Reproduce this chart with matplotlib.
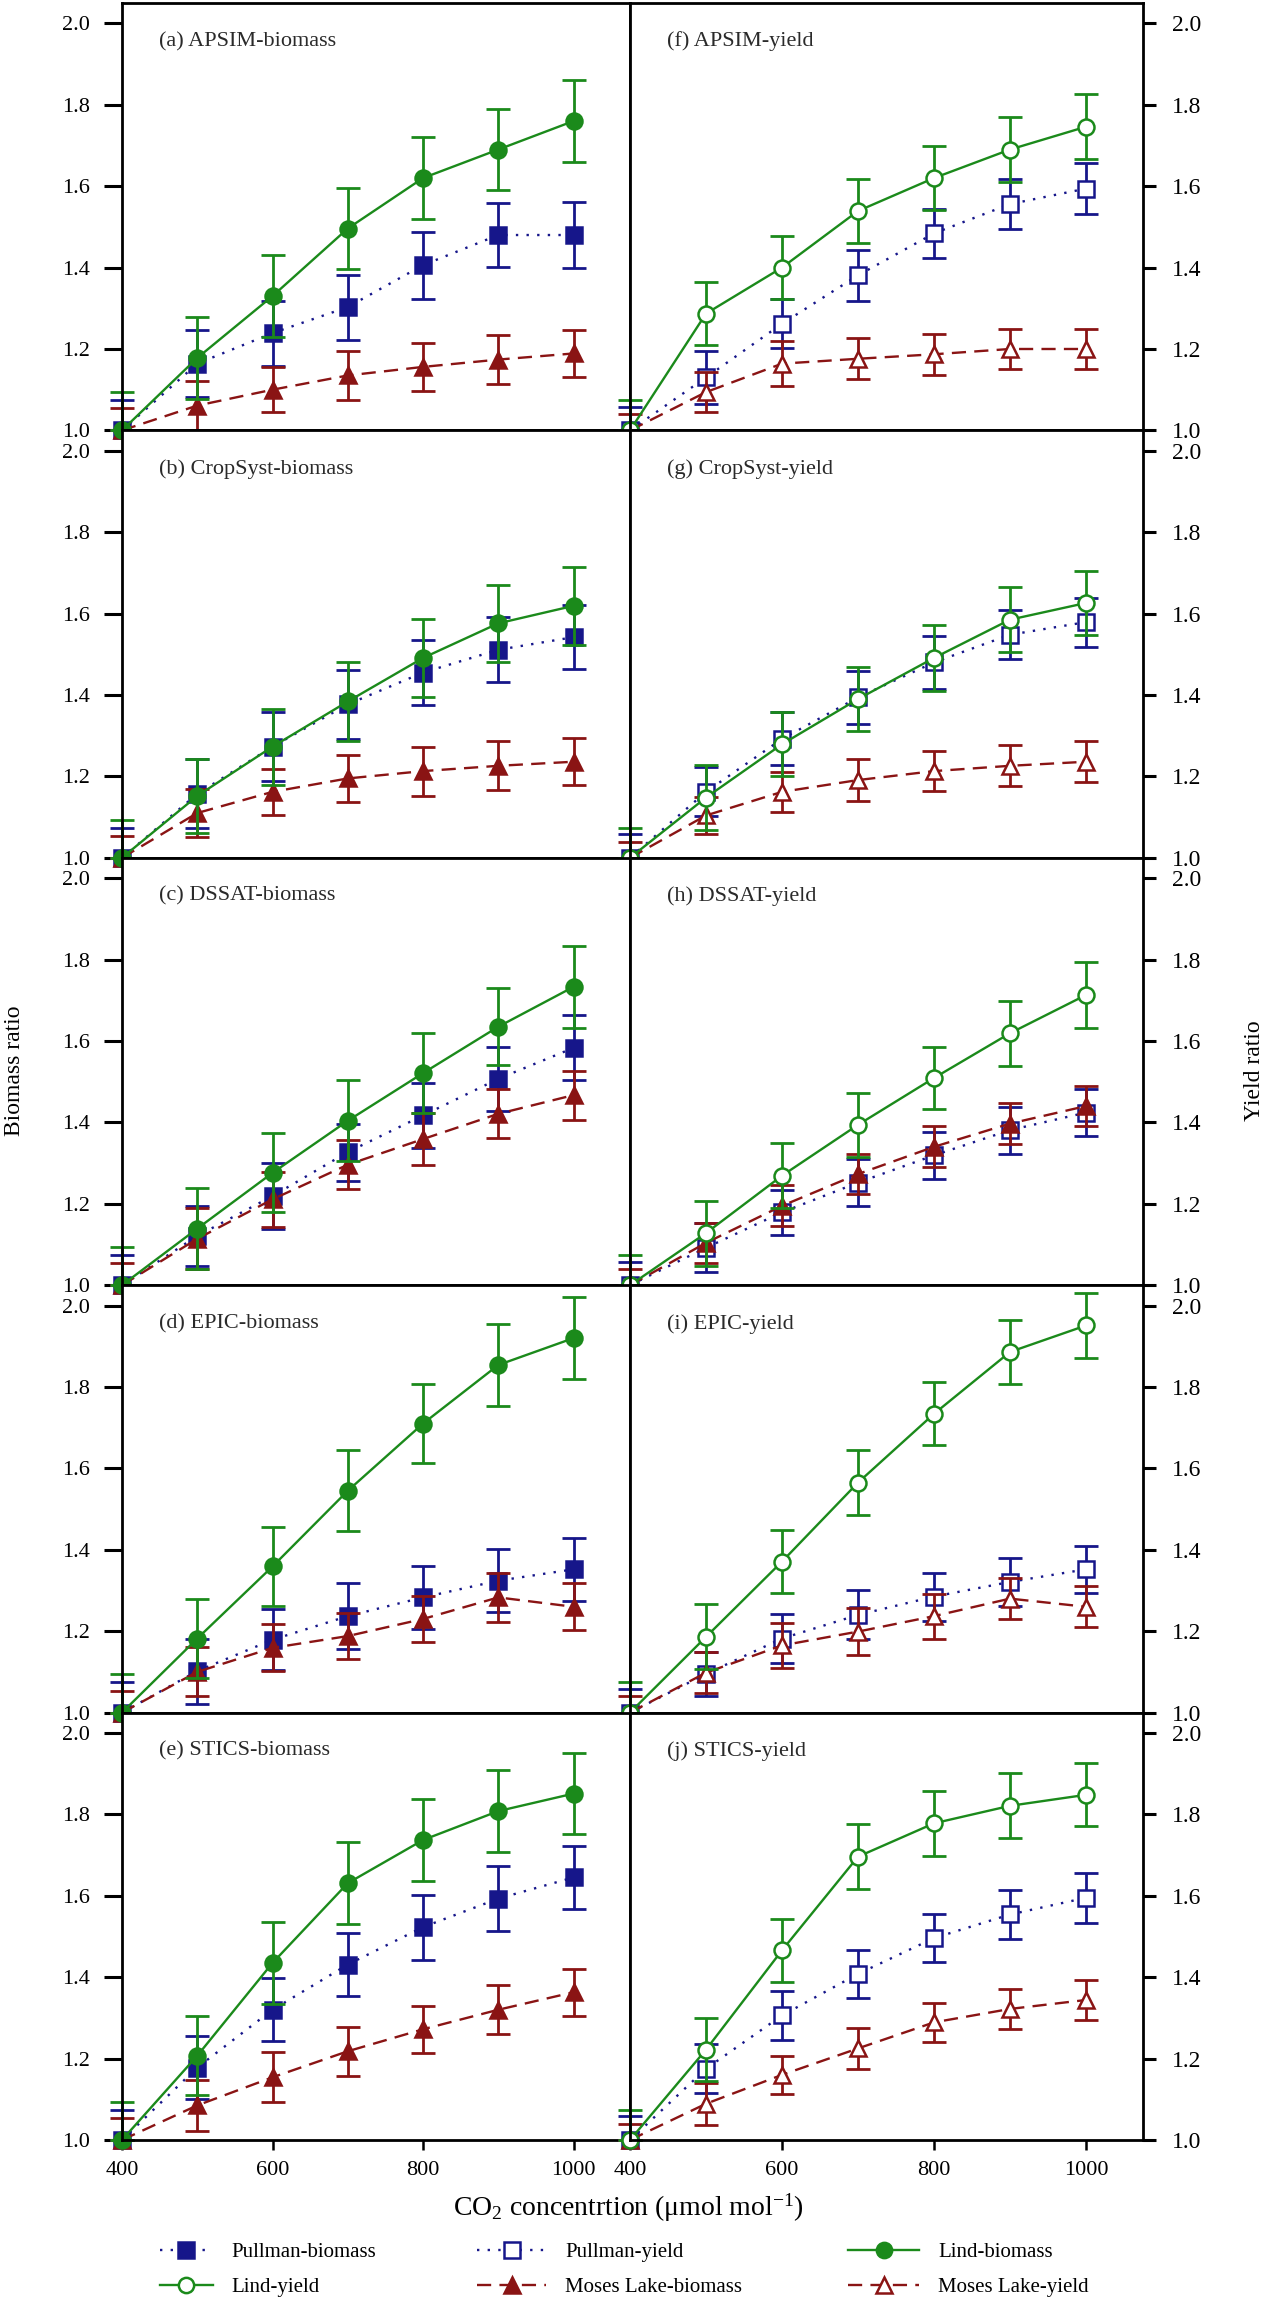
import numpy as np
import matplotlib
matplotlib.use('Agg')
import matplotlib.pyplot as plt
from matplotlib.lines import Line2D

plt.rcParams['font.family'] = ['Liberation Serif', 'DejaVu Serif']
plt.rcParams['mathtext.fontset'] = 'custom'
plt.rcParams['mathtext.rm'] = 'Liberation Serif'
plt.rcParams['mathtext.it'] = 'Liberation Serif:italic'

# CO2 levels (umol mol-1)
co2 = [400, 500, 600, 700, 800, 900, 1000]

# ratios, rows: Pullman, Lind, Moses Lake
apsim_biomass = [[1.0, 1.164, 1.239, 1.303, 1.406, 1.480, 1.480],
                 [1.0, 1.178, 1.330, 1.496, 1.620, 1.690, 1.760],
                 [1.0, 1.061, 1.100, 1.135, 1.156, 1.174, 1.189]]
apsim_biomass_err = [[0.074, 0.082, 0.080, 0.080, 0.082, 0.078, 0.080],
                     [0.094, 0.100, 0.100, 0.100, 0.100, 0.100, 0.100],
                     [0.054, 0.060, 0.055, 0.060, 0.058, 0.060, 0.058]]

cropsyst_biomass = [[1.0, 1.157, 1.273, 1.377, 1.455, 1.511, 1.542],
                    [1.0, 1.152, 1.273, 1.384, 1.491, 1.576, 1.619],
                    [1.0, 1.110, 1.162, 1.195, 1.213, 1.226, 1.236]]
cropsyst_biomass_err = [[0.074, 0.085, 0.085, 0.085, 0.080, 0.080, 0.078],
                        [0.094, 0.090, 0.093, 0.098, 0.095, 0.095, 0.095],
                        [0.054, 0.060, 0.057, 0.058, 0.060, 0.060, 0.058]]

dssat_biomass = [[1.0, 1.121, 1.219, 1.327, 1.417, 1.507, 1.583],
                 [1.0, 1.139, 1.276, 1.404, 1.521, 1.635, 1.733],
                 [1.0, 1.114, 1.211, 1.296, 1.359, 1.421, 1.467]]
dssat_biomass_err = [[0.074, 0.074, 0.080, 0.070, 0.080, 0.078, 0.080],
                     [0.094, 0.100, 0.097, 0.100, 0.098, 0.095, 0.100],
                     [0.054, 0.075, 0.067, 0.060, 0.063, 0.060, 0.060]]

epic_biomass = [[1.0, 1.102, 1.179, 1.237, 1.283, 1.324, 1.352],
                [1.0, 1.182, 1.359, 1.545, 1.710, 1.854, 1.920],
                [1.0, 1.100, 1.159, 1.188, 1.230, 1.283, 1.260]]
epic_biomass_err = [[0.074, 0.080, 0.075, 0.081, 0.078, 0.078, 0.078],
                    [0.094, 0.096, 0.097, 0.100, 0.097, 0.100, 0.100],
                    [0.054, 0.060, 0.058, 0.057, 0.056, 0.060, 0.058]]

stics_biomass = [[1.0, 1.178, 1.320, 1.431, 1.523, 1.593, 1.645],
                 [1.0, 1.207, 1.435, 1.631, 1.737, 1.808, 1.851],
                 [1.0, 1.085, 1.154, 1.218, 1.272, 1.320, 1.363]]
stics_biomass_err = [[0.074, 0.077, 0.078, 0.077, 0.080, 0.080, 0.077],
                     [0.094, 0.097, 0.100, 0.100, 0.100, 0.100, 0.100],
                     [0.054, 0.062, 0.061, 0.060, 0.058, 0.060, 0.058]]

apsim_yield = [[1.0, 1.130, 1.262, 1.381, 1.484, 1.556, 1.594],
               [1.0, 1.287, 1.400, 1.539, 1.620, 1.690, 1.746],
               [1.0, 1.094, 1.164, 1.176, 1.187, 1.200, 1.200]]
apsim_yield_err = [[0.058, 0.065, 0.060, 0.062, 0.061, 0.062, 0.062],
                   [0.074, 0.077, 0.078, 0.078, 0.079, 0.080, 0.080],
                   [0.040, 0.050, 0.056, 0.050, 0.050, 0.050, 0.050]]

cropsyst_yield = [[1.0, 1.162, 1.292, 1.394, 1.480, 1.548, 1.579],
                  [1.0, 1.148, 1.279, 1.390, 1.491, 1.585, 1.626],
                  [1.0, 1.104, 1.162, 1.191, 1.213, 1.226, 1.236]]
cropsyst_yield_err = [[0.058, 0.060, 0.065, 0.065, 0.065, 0.060, 0.060],
                      [0.074, 0.080, 0.078, 0.078, 0.080, 0.080, 0.078],
                      [0.040, 0.045, 0.050, 0.052, 0.050, 0.050, 0.050]]

dssat_yield = [[1.0, 1.092, 1.179, 1.252, 1.319, 1.381, 1.424],
               [1.0, 1.128, 1.269, 1.394, 1.509, 1.619, 1.713],
               [1.0, 1.104, 1.195, 1.273, 1.340, 1.397, 1.440]]
dssat_yield_err = [[0.058, 0.060, 0.055, 0.058, 0.058, 0.058, 0.058],
                   [0.074, 0.080, 0.080, 0.078, 0.077, 0.080, 0.080],
                   [0.040, 0.050, 0.050, 0.050, 0.050, 0.050, 0.050]]

epic_yield = [[1.0, 1.095, 1.182, 1.240, 1.285, 1.321, 1.352],
              [1.0, 1.186, 1.371, 1.565, 1.734, 1.886, 1.951],
              [1.0, 1.098, 1.165, 1.199, 1.237, 1.280, 1.260]]
epic_yield_err = [[0.058, 0.055, 0.060, 0.060, 0.059, 0.060, 0.058],
                  [0.074, 0.080, 0.077, 0.080, 0.077, 0.078, 0.080],
                  [0.040, 0.050, 0.055, 0.058, 0.055, 0.050, 0.050]]

stics_yield = [[1.0, 1.175, 1.306, 1.408, 1.496, 1.554, 1.595],
               [1.0, 1.222, 1.466, 1.696, 1.778, 1.821, 1.848],
               [1.0, 1.089, 1.160, 1.225, 1.289, 1.322, 1.344]]
stics_yield_err = [[0.058, 0.060, 0.061, 0.060, 0.059, 0.059, 0.061],
                   [0.074, 0.077, 0.077, 0.080, 0.080, 0.080, 0.077],
                   [0.040, 0.052, 0.047, 0.050, 0.048, 0.049, 0.048]]

left_titles = ['(a) APSIM-biomass', '(b) CropSyst-biomass', '(c) DSSAT-biomass',
               '(d) EPIC-biomass', '(e) STICS-biomass']
right_titles = ['(f) APSIM-yield', '(g) CropSyst-yield', '(h) DSSAT-yield',
                '(i) EPIC-yield', '(j) STICS-yield']
left_data = [(apsim_biomass, apsim_biomass_err), (cropsyst_biomass, cropsyst_biomass_err),
             (dssat_biomass, dssat_biomass_err), (epic_biomass, epic_biomass_err),
             (stics_biomass, stics_biomass_err)]
right_data = [(apsim_yield, apsim_yield_err), (cropsyst_yield, cropsyst_yield_err),
              (dssat_yield, dssat_yield_err), (epic_yield, epic_yield_err),
              (stics_yield, stics_yield_err)]

sites = ['Pullman', 'Lind', 'Moses Lake']
colors = ['#16168a', '#1b8a1b', '#8a1414']
styles = [(0, (1, 3.5)), '-', (0, (6, 3.5))]
markers = ['s', 'o', '^']

W, H = 1270, 2297
fig = plt.figure(figsize=(W / 100, H / 100), dpi=100)

top_px, row_h = 3, 427.4
xl0, xr0, xr1 = 122, 630, 1143


def draw_panel(ax, data, errs, open_marker, filled_moses=False):
    # draw order: Pullman, Moses Lake, Lind on top
    for k in [0, 2, 1]:
        c = colors[k]
        up = errs[k]
        lo = list(up)
        lo[0] = 0.0
        cont = ax.errorbar(co2, data[k], yerr=[lo, up], fmt='none', ecolor=c,
                           elinewidth=2.0, capsize=8.5, capthick=2.0)
        for art in cont.get_children():
            art.set_clip_on(False)
        filled = (not open_marker) or (k == 2 and filled_moses)
        ax.plot(co2, data[k], color=c, ls=styles[k], lw=1.7, marker=markers[k],
                ms=11.5 if k != 2 else 12, mfc=c if filled else 'white', mec=c,
                mew=1.8, clip_on=False)


for i in range(5):
    y0 = 1 - (top_px + row_h * (i + 1)) / H
    h = row_h / H
    axl = fig.add_axes([xl0 / W, y0, (xr0 - xl0) / W, h])
    axr = fig.add_axes([xr0 / W, y0, (xr1 - xr0) / W, h])

    d, e = left_data[i]
    draw_panel(axl, d, e, open_marker=False)
    d, e = right_data[i]
    draw_panel(axr, d, e, open_marker=True, filled_moses=(i == 2))

    for ax, title in ((axl, left_titles[i]), (axr, right_titles[i])):
        ax.set_xlim(400, 1075)
        ax.set_ylim(1.0, 2.05)
        ax.set_yticks(np.arange(1.0, 2.01, 0.2))
        ax.yaxis.set_major_formatter(matplotlib.ticker.FormatStrFormatter('%.1f'))
        for s in ax.spines.values():
            s.set_linewidth(2.0)
        ax.text(0.072, 0.91, title, transform=ax.transAxes, fontsize=16,
                color='#2a2a2a', va='center', ha='left')
        if i == 4:
            ax.set_xticks([400, 600, 800, 1000])
            ax.tick_params(axis='x', direction='out', length=7, width=1.8,
                           labelsize=16, pad=8, top=False)
        else:
            ax.set_xticks([])

    axl.tick_params(axis='y', direction='out', length=13, width=2.2,
                    labelsize=16, pad=10, left=True, right=False)
    axr.yaxis.tick_right()
    axr.tick_params(axis='y', direction='out', length=9, width=2.2,
                    labelsize=17, pad=12, left=False, right=True,
                    labelleft=False, labelright=True)

fig.text(628 / W, 1 - 2208 / H, 'CO$_2$ concentrtion (\u03bcmol mol$^{-1}$)',
         ha='center', va='center', fontsize=20)
fig.text(15 / W, 1 - 1071 / H, 'Biomass ratio', rotation=90,
         ha='center', va='center', fontsize=17)
fig.text(1255 / W, 1 - 1071 / H, 'Yield ratio', rotation=90,
         ha='center', va='center', fontsize=17)


def handle(k, filled):
    c = colors[k]
    return Line2D([], [], color=c, ls=styles[k], lw=1.7, marker=markers[k], ms=11,
                  mfc=c if filled else 'white', mec=c, mew=1.8)


legend_cols = [
    (150, [(handle(0, True), 'Pullman-biomass'), (handle(1, False), 'Lind-yield')], 2.5),
    (467, [(handle(0, False), 'Pullman-yield'), (handle(2, True), 'Moses Lake-biomass')], 3.3),
    (838, [(handle(1, True), 'Lind-biomass'), (handle(2, False), 'Moses Lake-yield')], 3.4),
]
for x_px, items, hl in legend_cols:
    leg = fig.legend([it[0] for it in items], [it[1] for it in items],
                     loc='upper left', bbox_to_anchor=(x_px / W, 1 - 2232 / H),
                     frameon=False, borderpad=0, fontsize=15, handlelength=hl,
                     handletextpad=0.9, labelspacing=0.75)

fig.savefig('out.png', dpi=100)
